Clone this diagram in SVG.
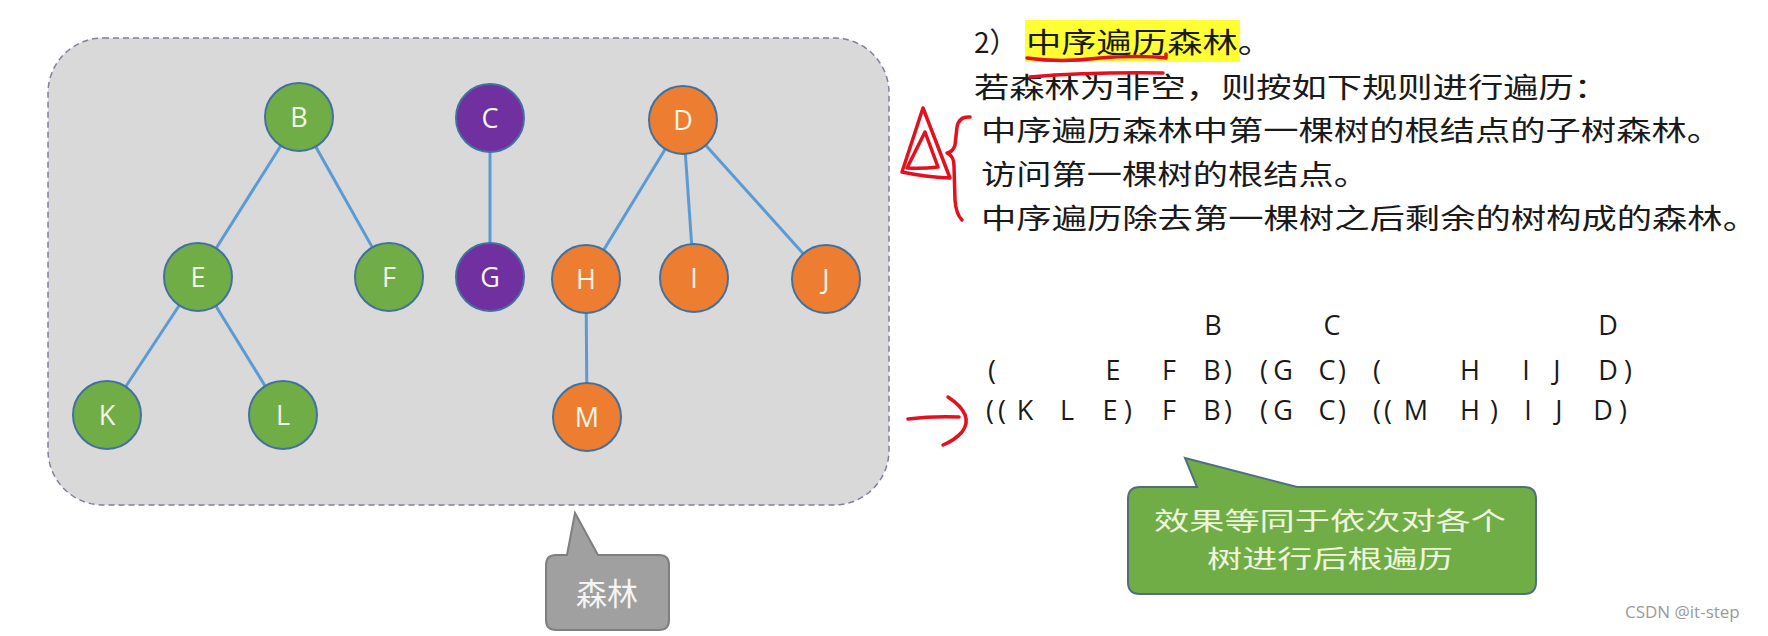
<svg xmlns="http://www.w3.org/2000/svg" width="1768" height="636" viewBox="0 0 1768 636">
<style>
.bg{fill:#ffffff}
.forest{fill:#d9d9d9;stroke:#7f7f9f;stroke-width:1.5;stroke-dasharray:6 4}
.edge{stroke:#5b9bd5;stroke-width:3;fill:none}
.g{fill:#70ad47;stroke:#41719c;stroke-width:2}
.p{fill:#7030a0;stroke:#41719c;stroke-width:2}
.o{fill:#ed7d31;stroke:#41719c;stroke-width:2}
.lbl{font-family:"Open Sans","Liberation Sans",sans-serif;font-size:27px;fill:#f2f7e8;text-anchor:middle}
.cn{font-family:"Noto Sans CJK SC","Noto Sans",sans-serif;font-size:28px;fill:#1a1a1a}
.seq{font-family:"Open Sans","Liberation Sans",sans-serif;font-size:27px;fill:#1a1a1a;text-anchor:middle}
.red{stroke:#e3101e;stroke-width:3.5;fill:none;stroke-linecap:round;stroke-linejoin:round}
.callg{fill:#70ad47;stroke:#4f6f7f;stroke-width:2}
.callgr{fill:#a0a0a0;stroke:#7f7f7f;stroke-width:2}
.ctext{font-family:"Noto Sans CJK SC","Noto Sans",sans-serif;font-size:25px;fill:#eef5dc;text-anchor:middle}
.wm{font-family:"Open Sans","Noto Sans",sans-serif;font-size:17px;fill:#9a9a9a}
</style>
<rect class="bg" x="0" y="0" width="1768" height="636"/>
<rect class="forest" x="48" y="38" width="841" height="467" rx="55" ry="55"/>
<g id="connectors">
<line class="edge" x1="299" y1="117" x2="198" y2="277"/>
<line class="edge" x1="299" y1="117" x2="389" y2="277"/>
<line class="edge" x1="198" y1="277" x2="107" y2="415"/>
<line class="edge" x1="198" y1="277" x2="283" y2="415"/>
<line class="edge" x1="490" y1="118" x2="490" y2="277"/>
<line class="edge" x1="683" y1="120" x2="586" y2="279"/>
<line class="edge" x1="683" y1="120" x2="694" y2="278"/>
<line class="edge" x1="683" y1="120" x2="826" y2="279"/>
<line class="edge" x1="586" y1="279" x2="587" y2="417"/>
</g>
<g id="node-B"><circle class="g" cx="299" cy="117" r="34"/><text class="lbl" x="299" y="127">B</text></g>
<g id="node-C"><circle class="p" cx="490" cy="118" r="34"/><text class="lbl" x="490" y="128">C</text></g>
<g id="node-D"><circle class="o" cx="683" cy="120" r="34"/><text class="lbl" x="683" y="130">D</text></g>
<g id="node-E"><circle class="g" cx="198" cy="277" r="34"/><text class="lbl" x="198" y="287">E</text></g>
<g id="node-F"><circle class="g" cx="389" cy="277" r="34"/><text class="lbl" x="389" y="287">F</text></g>
<g id="node-G"><circle class="p" cx="490" cy="277" r="34"/><text class="lbl" x="490" y="287">G</text></g>
<g id="node-H"><circle class="o" cx="586" cy="279" r="34"/><text class="lbl" x="586" y="289">H</text></g>
<g id="node-I"><circle class="o" cx="694" cy="278" r="34"/><text class="lbl" x="694" y="288">I</text></g>
<g id="node-J"><circle class="o" cx="826" cy="279" r="34"/><text class="lbl" x="826" y="289">J</text></g>
<g id="node-K"><circle class="g" cx="107" cy="415" r="34"/><text class="lbl" x="107" y="425">K</text></g>
<g id="node-L"><circle class="g" cx="283" cy="415" r="34"/><text class="lbl" x="283" y="425">L</text></g>
<g id="node-M"><circle class="o" cx="587" cy="417" r="34"/><text class="lbl" x="587" y="427">M</text></g>

<g id="callout-forest">
<path class="callgr" d="M556,555 L567,555 L575,513 L598,555 L659,555 Q669,555 669,565 L669,620 Q669,630 659,630 L556,630 Q546,630 546,620 L546,565 Q546,555 556,555 Z"/>
<text class="ctext" x="607" y="605" style="font-size:31px;fill:#f4f4f4">森林</text>
</g>

<g id="rules">
<rect x="1025" y="20" width="215" height="42" fill="#ffff33"/>
<text class="cn" x="974" y="53">2）</text>
<text class="cn" x="1026" y="53" textLength="247" lengthAdjust="spacingAndGlyphs">中序遍历森林。</text>
<text class="cn" x="974" y="98" textLength="635" lengthAdjust="spacingAndGlyphs">若森林为非空，则按如下规则进行遍历：</text>
<text class="cn" x="981" y="141" textLength="741" lengthAdjust="spacingAndGlyphs">中序遍历森林中第一棵树的根结点的子树森林。</text>
<text class="cn" x="981" y="185" textLength="388" lengthAdjust="spacingAndGlyphs">访问第一棵树的根结点。</text>
<text class="cn" x="981" y="229" textLength="777" lengthAdjust="spacingAndGlyphs">中序遍历除去第一棵树之后剩余的树构成的森林。</text>
</g>

<g id="annotations">
<path class="red" d="M1027,58 Q1060,63 1100,58 Q1140,55 1166,58 L1166,54"/>
<path class="red" d="M1030,77 Q1090,72 1163,73"/>
<path class="red" d="M950,178 L923,108 L902,172 Q925,177 950,178"/>
<path class="red" d="M938,167 L925,132 L907,168 Q922,169 938,167"/>
<path class="red" d="M970,117 Q959,116 957,127 L955,145 Q953,152 947,153 Q954,156 954,166 L955,200 Q956,214 962,220"/>
<path class="red" d="M908,419 Q932,416 959,417"/>
<path class="red" d="M948,397 Q975,415 962,432 Q955,440 943,445"/>
</g>

<g id="sequences">
<text class="seq" x="1213 1332 1608" y="335">BCD</text>
<text class="seq" x="992 1113 1169 1212 1228 1264 1283 1327 1342 1377 1470 1526 1557 1608 1628" y="380">(EFB)(GC)(HIJD)</text>
<text class="seq" x="990 1002 1025 1067 1110 1128 1169 1212 1228 1264 1283 1327 1342 1377 1388 1416 1470 1494 1528 1559 1603 1623" y="420">((KLE)FB)(GC)((MH)IJD)</text>
</g>

<g id="callout-effect">
<path class="callg" d="M1140,487 L1197,487 L1185,458 L1297,487 L1524,487 Q1536,487 1536,499 L1536,582 Q1536,594 1524,594 L1140,594 Q1128,594 1128,582 L1128,499 Q1128,487 1140,487 Z"/>
<text class="ctext" x="1330" y="530" textLength="352" lengthAdjust="spacingAndGlyphs">效果等同于依次对各个</text>
<text class="ctext" x="1330" y="568" textLength="246" lengthAdjust="spacingAndGlyphs">树进行后根遍历</text>
</g>

<text class="wm" x="1625" y="618">CSDN @it-step</text>
</svg>
